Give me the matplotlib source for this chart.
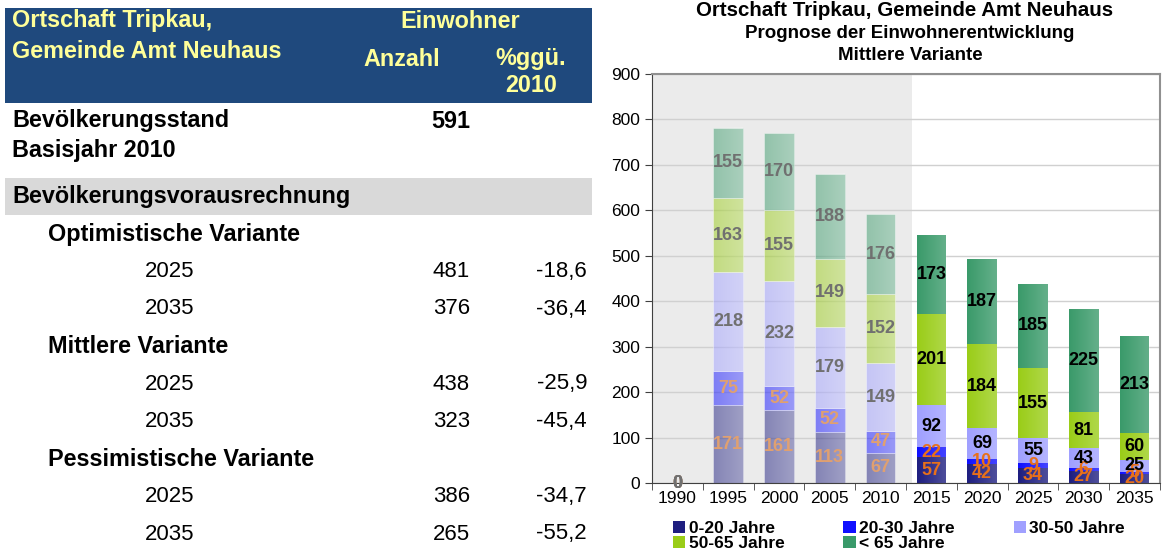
import matplotlib
matplotlib.use("Agg")
import matplotlib.pyplot as plt
import numpy as np
from matplotlib.patches import Rectangle, Patch

plt.rcParams['font.family'] = ['Liberation Sans', 'DejaVu Sans']

# --- Tabelle links ---
kopf_links = ["Ortschaft Tripkau,", "Gemeinde Amt Neuhaus"]
basis_text = ["Bevölkerungsstand", "Basisjahr 2010"]
basis_wert = 591
varianten = ["Optimistische Variante", "Mittlere Variante", "Pessimistische Variante"]
prognose_jahre = ["2025", "2035"]
prognose_anzahl = [[481, 376], [438, 323], [386, 265]]
prognose_prozent = [[-18.6, -36.4], [-25.9, -45.4], [-34.7, -55.2]]

# --- Diagramm rechts ---
jahre = ["1990", "1995", "2000", "2005", "2010", "2015", "2020", "2025", "2030", "2035"]
gruppen = ["0-20 Jahre", "20-30 Jahre", "30-50 Jahre", "50-65 Jahre", "< 65 Jahre"]
a0_20 = [0, 171, 161, 113, 67, 57, 42, 34, 27, 20]
a20_30 = [0, 75, 52, 52, 47, 22, 10, 9, 6, 5]
a30_50 = [0, 218, 232, 179, 149, 92, 69, 55, 43, 25]
a50_65 = [0, 163, 155, 149, 152, 201, 184, 155, 81, 60]
a65 = [0, 155, 170, 188, 176, 173, 187, 185, 225, 213]
n_basis = 5  # 1990-2010 sind Ist-Werte (blass dargestellt)

farben = ['#1e1e80', '#1010ff', '#a0a0ff', '#9acd18', '#3a9a6a']

W, H = 1162, 552
fig = plt.figure(figsize=(W / 100, H / 100), dpi=100)


def fx(x):
    return x / W


def fy(y):
    return 1 - y / H


def txt(x, y, s, **kw):
    kw.setdefault('va', 'center')
    kw.setdefault('fontsize', 16)
    fig.text(fx(x), fy(y), s, **kw)


# Kopfzeile
fig.patches.append(Rectangle((fx(5), fy(103)), fx(587), 95 / H, transform=fig.transFigure,
                             facecolor='#1f497d', edgecolor='none', zorder=0))
gelb = '#ffff99'
fett = 16.8
txt(12, 21, kopf_links[0], color=gelb, weight='bold', fontsize=fett)
txt(12, 52, kopf_links[1], color=gelb, weight='bold', fontsize=fett)
txt(460, 22, "Einwohner", color=gelb, weight='bold', ha='center', fontsize=fett)
txt(402, 59, "Anzahl", color=gelb, weight='bold', ha='center', fontsize=fett)
txt(531, 59, "%ggü.", color=gelb, weight='bold', ha='center', fontsize=fett)
txt(531, 86, "2010", color=gelb, weight='bold', ha='center', fontsize=fett)

txt(12, 121, basis_text[0], weight='bold', fontsize=fett)
txt(12, 150, basis_text[1], weight='bold', fontsize=fett)
txt(470, 121, str(basis_wert), weight='bold', ha='right', fontsize=fett)

fig.patches.append(Rectangle((fx(5), fy(215)), fx(587), 37 / H, transform=fig.transFigure,
                             facecolor='#d9d9d9', edgecolor='none', zorder=0))
txt(12, 196, "Bevölkerungsvorausrechnung", weight='bold', fontsize=fett)

y0 = 234
for i, v in enumerate(varianten):
    y = y0 + i * 112.5
    txt(48, y, v, weight='bold', fontsize=fett)
    for j, jahr in enumerate(prognose_jahre):
        yy = y + 37.5 * (j + 1)
        txt(145, yy, jahr)
        txt(470, yy, str(prognose_anzahl[i][j]), ha='right')
        txt(587, yy, f"{prognose_prozent[i][j]:.1f}".replace('.', ','), ha='right')

# Diagramm
ax = fig.add_axes([fx(652), fy(483), (1160 - 652) / W, (483 - 74) / H])
ax.axvspan(-0.5, 4.62, color='#ebebeb', zorder=0, lw=0)
ax.set_ylim(0, 900)
ax.set_xlim(-0.5, len(jahre) - 0.5)
ax.set_yticks(range(0, 901, 100))
ax.yaxis.grid(True, color='#d0d0d0', lw=1, zorder=0.5)
ax.set_axisbelow(True)

breite = 0.58
werte = [a0_20, a20_30, a30_50, a50_65, a65]
x = list(range(len(jahre)))
unten = [0] * len(jahre)
for k, (reihe, farbe) in enumerate(zip(werte, farben)):
    for i in x:
        alt = i < n_basis
        ax.bar(i, reihe[i], breite, bottom=unten[i], color=farbe,
               alpha=0.5 if alt else 1.0, edgecolor='white' if alt else 'none',
               linewidth=0.5, zorder=2)
        if k < 2:
            c = '#e0a070' if alt else '#e8701a'
        else:
            c = '#707070' if alt else 'black'
        ax.text(i, unten[i] + reihe[i] / 2, str(reihe[i]), ha='center', va='center',
                fontsize=13, weight='bold', color=c, zorder=4)
    unten = [u + r for u, r in zip(unten, reihe)]

# leichter Farbverlauf auf den Säulen (links dunkler, rechts heller)
verlauf = np.zeros((1, 50, 4))
verlauf[..., :3] = 1.0
verlauf[0, :, 3] = np.linspace(0.0, 0.22, 50)
for i in x:
    if unten[i] > 0:
        ax.imshow(verlauf, extent=(i - breite / 2, i + breite / 2, 0, unten[i]),
                  aspect='auto', zorder=3, interpolation='bilinear')
ax.set_xlim(-0.5, len(jahre) - 0.5)
ax.set_ylim(0, 900)

ax.set_xticks(x)
ax.set_xticklabels(jahre, fontsize=12.5)
ax.set_xticks([i - 0.5 for i in range(len(jahre) + 1)], minor=True)
ax.tick_params(axis='x', which='major', length=0, pad=6)
ax.tick_params(axis='x', which='minor', length=5, color='#404040')
ax.tick_params(axis='y', labelsize=12.5, length=5, color='#404040')
for s in ['top', 'right']:
    ax.spines[s].set_color('#909090')
    ax.spines[s].set_linewidth(1.5)
ax.spines['left'].set_color('#404040')
ax.spines['bottom'].set_color('#404040')

fig.text(fx(905), fy(10), "Ortschaft Tripkau, Gemeinde Amt Neuhaus", ha='center', va='center',
         fontsize=14.8, weight='bold')
fig.text(fx(910), fy(33), "Prognose der Einwohnerentwicklung", ha='center', va='center',
         fontsize=13.5, weight='bold')
fig.text(fx(910), fy(55), "Mittlere Variante", ha='center', va='center',
         fontsize=13.5, weight='bold')

# Legende: Reihenfolge so, dass zeilenweise gelesen wird
griffe = [Patch(facecolor=f, edgecolor='none') for f in farben]
order = [0, 3, 1, 4, 2]
fig.legend([griffe[i] for i in order], [gruppen[i] for i in order], ncol=3,
           loc='upper left', bbox_to_anchor=(fx(673), fy(521)), frameon=False,
           prop={'size': 12.5, 'weight': 'bold'}, handlelength=0.7, handleheight=0.7,
           handletextpad=0.2, labelspacing=0.0, columnspacing=3.4, borderaxespad=0,
           borderpad=0)

fig.savefig("out.png", dpi=100)
